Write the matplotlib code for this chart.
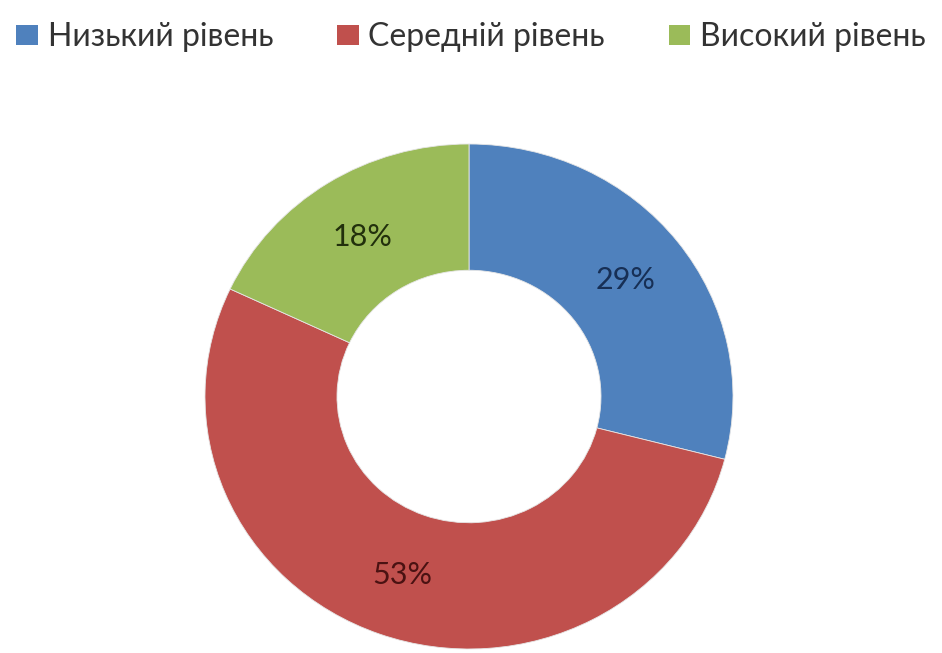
import matplotlib.pyplot as plt
from matplotlib.patches import Patch

# levels and their shares, in percent
levels = ['Низький рівень', 'Середній рівень', 'Високий рівень']
shares = [29, 53, 18]
colors = ['#4F81BD', '#C0504D', '#9BBB59']
label_colors = ['#172f55', '#4a1212', '#22300c']

plt.rcParams['font.family'] = ['Lato', 'DejaVu Sans']

fig = plt.figure(figsize=(9.42, 6.53), dpi=100)

# the ring is a little wider than tall, so keep the axes aspect free
ax = fig.add_axes([205 / 942, 4 / 653, 528 / 942, 505 / 653])
wedges, texts, autotexts = ax.pie(
    shares,
    colors=colors,
    startangle=90,
    counterclock=False,
    autopct=lambda p: f'{p:.0f}%',
    pctdistance=0.75,
    wedgeprops=dict(width=0.5, edgecolor='#e6e6e6', linewidth=0.6),
    textprops=dict(fontsize=22),
)
for t, c in zip(autotexts, label_colors):
    t.set_color(c)

ax.set_aspect('auto')
ax.set_xlim(-1, 1)
ax.set_ylim(-1, 1)
ax.axis('off')

# legend row at the top
handles = [Patch(facecolor=c, edgecolor='none') for c in colors]
fig.legend(handles, levels, loc='upper center', bbox_to_anchor=(0.5, 1.0),
           ncol=3, frameon=False, fontsize=23, labelcolor='#333333',
           handlelength=0.68, handleheight=0.6, handletextpad=0.3,
           columnspacing=2.0, borderaxespad=0.3)

fig.savefig('out.png', dpi=100, facecolor='white')
